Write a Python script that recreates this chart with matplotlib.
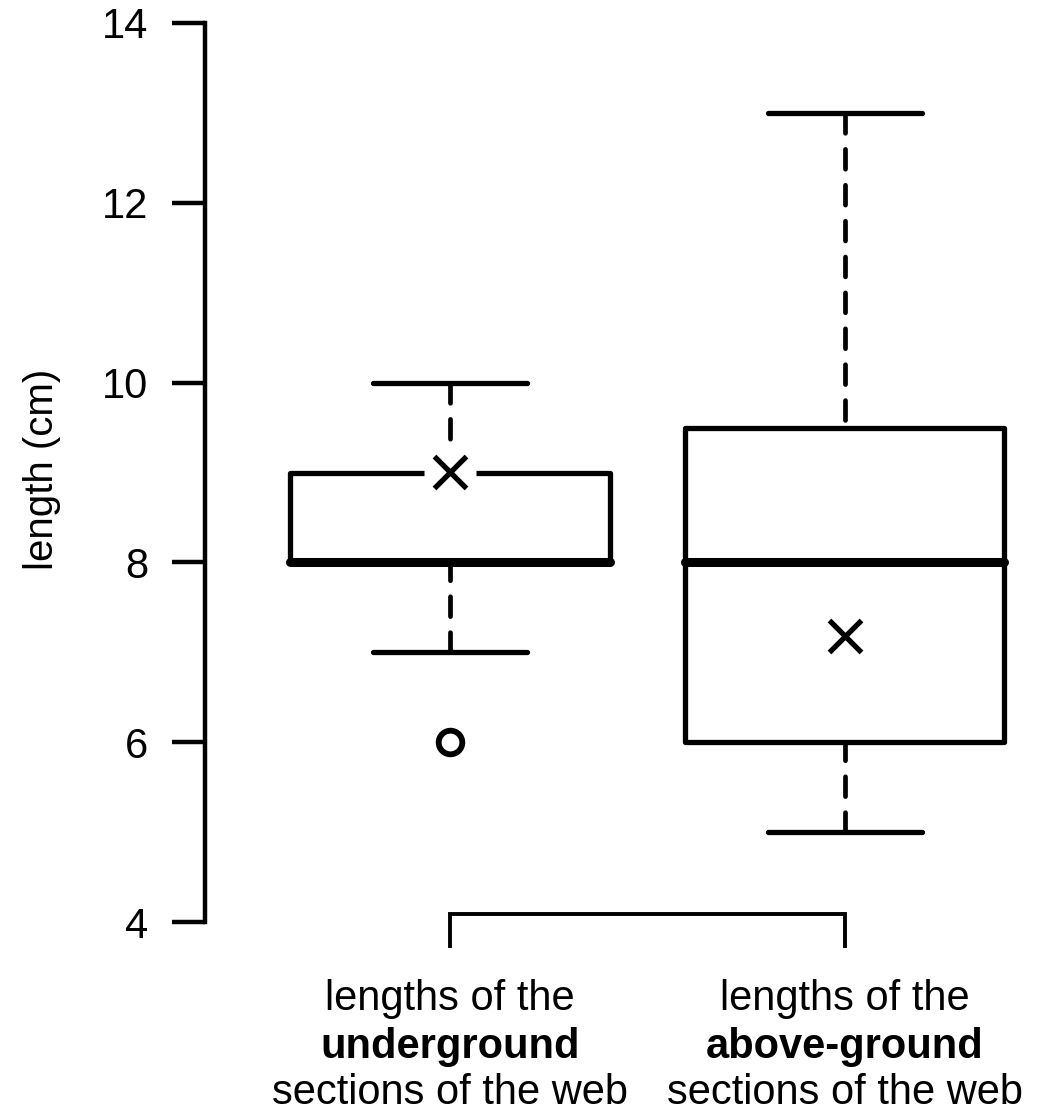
import matplotlib
matplotlib.use("Agg")
import matplotlib.pyplot as plt
from matplotlib.patches import Rectangle

plt.rcParams['font.family'] = ['Liberation Sans', 'DejaVu Sans']

# ---- data ----
groups = ["underground", "above-ground"]
positions = [1, 2]
q1 = [8.0, 6.0]
medians = [8.0, 8.0]
q3 = [9.0, 9.5]
whisker_low = [7.0, 5.0]
whisker_high = [10.0, 13.0]
means = [9.0, 7.18]
outliers = [[6.0], []]
yticks = [4, 6, 8, 10, 12, 14]

fig = plt.figure(figsize=(10.44, 11.13), dpi=100)
ax = fig.add_axes([205/1044, 1 - 922/1113, (1042-205)/1044, (922-23)/1113])
ax.set_xlim(0.38, 2.5)
ax.set_ylim(4, 14)

lw_box = 3.8
box_w = 0.81
cap_w = 0.39
dash = (0, (4.2, 3.4))

for i, p in enumerate(positions):
    # whiskers (drawn from cap towards box)
    ax.plot([p, p], [whisker_high[i], q3[i]], color='black', lw=3.4, linestyle=dash,
            dash_capstyle='round', zorder=2)
    ax.plot([p, p], [whisker_low[i], q1[i]], color='black', lw=3.4, linestyle=dash,
            dash_capstyle='round', zorder=2)
    # caps
    for w in (whisker_low[i], whisker_high[i]):
        ax.plot([p - cap_w/2, p + cap_w/2], [w, w], color='black', lw=lw_box,
                solid_capstyle='round', zorder=3)
    # box
    ax.add_patch(Rectangle((p - box_w/2, q1[i]), box_w, q3[i] - q1[i], fill=False,
                           edgecolor='black', lw=lw_box, joinstyle='round', zorder=3))
    # median
    ax.plot([p - box_w/2, p + box_w/2], [medians[i], medians[i]], color='black', lw=6.5,
            solid_capstyle='round', zorder=4)
    # outliers
    for o in outliers[i]:
        ax.plot(p, o, marker='o', ms=17, mfc='white', mec='black', mew=4.2, zorder=5,
                linestyle='none')
    # mean: white patch + x
    ax.plot(p, means[i], marker='s', ms=37, mfc='white', mec='none', zorder=5,
            linestyle='none')
    ax.plot(p, means[i], marker='x', ms=23, mec='black', mew=3.8, zorder=6,
            linestyle='none')

# bracket below the axis
ax.plot([positions[0], positions[0], positions[1], positions[1]],
        [3.73, 4.09, 4.09, 3.73], color='black', lw=2.8, clip_on=False,
        solid_joinstyle='miter', zorder=3)

# axes styling
for s in ['top', 'right', 'bottom']:
    ax.spines[s].set_visible(False)
ax.spines['left'].set_linewidth(3.2)
ax.set_xticks([])
ax.set_yticks(yticks)
ax.set_yticklabels([str(t) for t in yticks], fontsize=30)
ax.tick_params(axis='y', length=24, width=3.2, pad=17)

fig.text(42/1044, 1 - 469/1113, 'length (cm)', rotation=90, fontsize=29,
         ha='center', va='center')

# group labels
label_x = [450, 845]
for i, x in enumerate(label_x):
    fx = x / 1044
    fig.text(fx, 1 - 999/1113, 'lengths of the', fontsize=30, ha='center', va='center')
    fig.text(fx, 1 - 1047/1113, groups[i], fontsize=30, fontweight='bold',
             ha='center', va='center')
    fig.text(fx, 1 - 1093/1113, 'sections of the web', fontsize=30, ha='center',
             va='center')

fig.savefig('out.png', dpi=100)
